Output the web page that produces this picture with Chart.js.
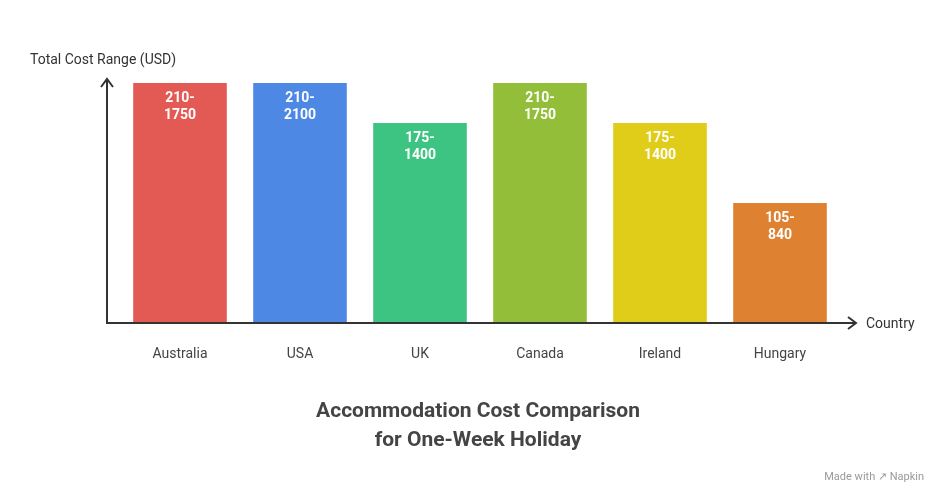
<!DOCTYPE html>
<html>
<head>
<meta charset="utf-8">
<script src="https://cdn.jsdelivr.net/npm/chart.js@4"></script>
<style>
  html, body { margin: 0; padding: 0; background: #fff; }
  #wrap { width: 948px; height: 504px; position: relative; }
</style>
</head>
<body>
<div id="wrap"><canvas id="chart" width="948" height="504"></canvas></div>
<script>
// datos del grafico
const paises = ["Australia", "USA", "UK", "Canada", "Ireland", "Hungary"];
const alturas = [6, 6, 5, 6, 5, 3];
const rangos = [["210-", "1750"], ["210-", "2100"], ["175-", "1400"], ["210-", "1750"], ["175-", "1400"], ["105-", "840"]];
const colores = ["#E35A55", "#4E88E5", "#3DC483", "#92BE3A", "#DFCD1A", "#DE8232"];

const FONT = "Roboto, 'Noto Sans', sans-serif";

// ejes, etiquetas y titulo
const decoracion = {
  id: "decoracion",
  afterDatasetsDraw(chart) {
    const ctx = chart.ctx;
    const xs = chart.scales.x, ys = chart.scales.y;
    const base = ys.getPixelForValue(0);
    ctx.save();
    ctx.strokeStyle = "#333";
    ctx.lineWidth = 2;
    ctx.beginPath();
    ctx.moveTo(107, 80); ctx.lineTo(107, base); ctx.lineTo(855, base);
    ctx.stroke();
    ctx.beginPath();
    ctx.moveTo(101, 87); ctx.lineTo(107, 79); ctx.lineTo(113, 87);
    ctx.moveTo(848, base - 6); ctx.lineTo(856, base); ctx.lineTo(848, base + 6);
    ctx.stroke();

    ctx.fillStyle = "#333";
    ctx.font = "14px " + FONT;
    ctx.textBaseline = "middle";
    ctx.textAlign = "left";
    ctx.fillText("Total Cost Range (USD)", 30, 60);
    ctx.fillText("Country", 866, base + 1);

    ctx.textAlign = "center";
    ctx.fillStyle = "#444";
    paises.forEach((p, i) => {
      const x = xs.getPixelForValue(i);
      ctx.fillText(p, x, 354);
    });

    const meta = chart.getDatasetMeta(0);
    ctx.fillStyle = "#fff";
    ctx.font = "bold 14px " + FONT;
    meta.data.forEach((bar, i) => {
      ctx.fillText(rangos[i][0], bar.x, bar.y + 15);
      ctx.fillText(rangos[i][1], bar.x, bar.y + 32);
    });

    ctx.fillStyle = "#444";
    ctx.font = "bold 21px " + FONT;
    ctx.fillText("Accommodation Cost Comparison", 478, 412);
    ctx.fillText("for One-Week Holiday", 478, 441);

    ctx.fillStyle = "#999";
    ctx.font = "11px " + FONT;
    ctx.textAlign = "right";
    ctx.fillText("Made with \u2197 Napkin", 924, 477);
    ctx.restore();
  }
};

new Chart(document.getElementById("chart"), {
  type: "bar",
  data: {
    labels: paises,
    datasets: [{
      data: alturas,
      backgroundColor: colores,
      barPercentage: 0.78,
      categoryPercentage: 1
    }]
  },
  options: {
    responsive: false,
    animation: false,
    devicePixelRatio: 1,
    layout: { padding: { left: 120, right: 108, top: 43, bottom: 181 } },
    plugins: { legend: { display: false }, tooltip: { enabled: false } },
    scales: {
      x: { display: false },
      y: { display: false, min: 0, max: 7 }
    }
  },
  plugins: [decoracion]
});
</script>
</body>
</html>
